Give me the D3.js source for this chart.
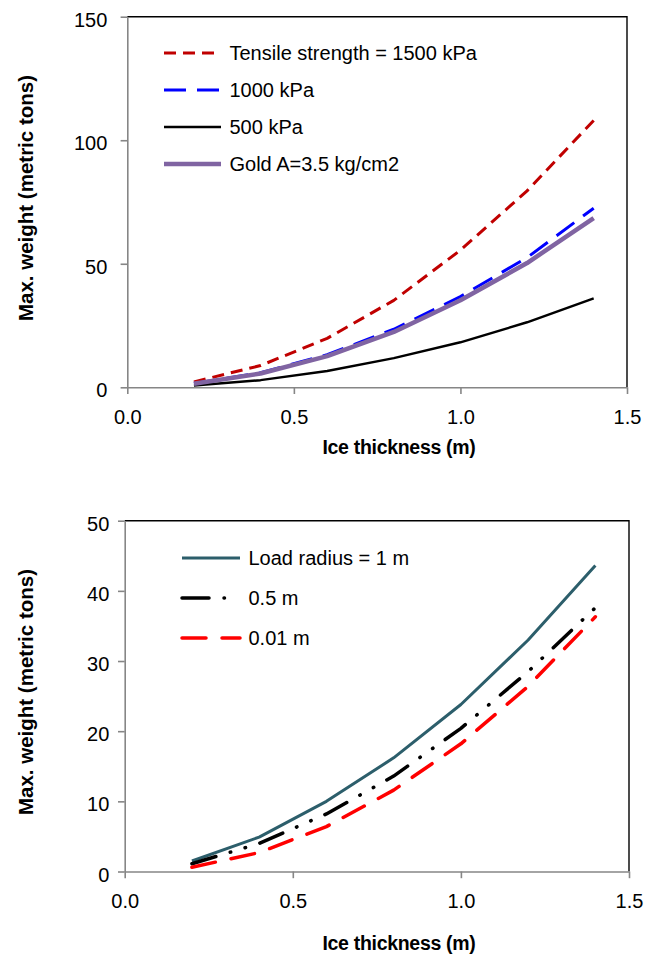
<!DOCTYPE html>
<html lang="en">
<head>
  <meta charset="UTF-8" />
  <title>Max. weight vs ice thickness</title>
  <script src="https://d3js.org/d3.v7.min.js"></script>
  <style>
    body { margin: 0; background: #fff; font-family: "Liberation Sans", Arial, sans-serif; }
    svg { display: block; }
    .tick text { font-size: 20px; fill: #000; }
    .axisTitle { font-size: 19.5px; font-weight: bold; fill: #000; }
    .legend text { font-size: 20px; fill: #000; }
  </style>
</head>
<body>
<svg width="647" height="967"></svg>
<script>
// ice thickness (m)
const thickness = [0.2, 0.4, 0.6, 0.8, 1.0, 1.2, 1.4];

// top chart: tensile strength series (metric tons)
const ts1500 = [2.2, 8.8, 19.8, 35.2, 55.5, 79.5, 108];
const ts1000 = [1.5, 5.9, 13.2, 23.5, 36.7, 52.5, 72.5];
const ts500  = [0.7, 2.9, 6.6, 11.8, 18.2, 26.3, 36];
const gold   = [1.4, 5.6, 12.6, 22.4, 35.2, 50.3, 68.5];

// bottom chart: load radius series (metric tons)
const r1m   = [1.5, 4.9, 10, 16.2, 23.8, 33, 43.6];
const r05m  = [1.1, 4.0, 8.2, 13.6, 20.4, 28.5, 37.6];
const r001m = [0.6, 2.7, 6.4, 11.6, 18.2, 26.4, 36.3];

const xTicks = [0, 0.5, 1.0, 1.5];
const yTicksTop = [0, 50, 100, 150];
const yTicksBottom = [0, 10, 20, 30, 40, 50];

const svg = d3.select("svg");

function drawChart(cfg) {
  const x = d3.scaleLinear().domain([0, 1.5]).range([cfg.left, cfg.right]);
  const y = d3.scaleLinear().domain([0, cfg.yMax]).range([cfg.bottom, cfg.top]);
  const g = svg.append("g");

  // plot frame (top and right)
  g.append("path")
    .attr("d", `M${cfg.left},${cfg.top}H${cfg.right}V${cfg.bottom}`)
    .attr("fill", "none")
    .attr("stroke", "#000")
    .attr("stroke-width", 1.4);

  const xAxis = g.append("g")
    .attr("transform", `translate(0,${cfg.bottom})`)
    .call(d3.axisBottom(x).tickValues(xTicks).tickFormat(d3.format(".1f"))
      .tickSize(6.7).tickSizeOuter(0).tickPadding(15.8));
  const yAxis = g.append("g")
    .attr("transform", `translate(${cfg.left},0)`)
    .call(d3.axisLeft(y).tickValues(cfg.yTicks)
      .tickSize(6.7).tickSizeOuter(0).tickPadding(cfg.yPad));
  yAxis.selectAll(".tick text").attr("dy", "0.48em");
  [xAxis, yAxis].forEach(a => {
    a.selectAll(".domain, .tick line").attr("stroke", "#868686").attr("stroke-width", 1.6);
    a.selectAll("text").attr("font-family", null).attr("font-size", null);
  });

  g.append("text")
    .attr("class", "axisTitle")
    .attr("x", 399)
    .attr("y", cfg.xTitleY)
    .attr("text-anchor", "middle")
    .attr("letter-spacing", "-0.3")
    .text("Ice thickness (m)");

  g.append("text")
    .attr("class", "axisTitle")
    .attr("transform", `translate(33,${cfg.yTitleC}) rotate(-90)`)
    .attr("text-anchor", "middle")
    .style("font-size", "20.5px")
    .text("Max. weight (metric tons)");

  const line = d3.line().x((d, i) => x(thickness[i])).y(d => y(d));

  cfg.series.forEach(s => {
    g.append("path")
      .datum(s.values)
      .attr("d", line)
      .attr("fill", "none")
      .attr("stroke", s.color)
      .attr("stroke-width", s.width)
      .attr("stroke-dasharray", s.dash)
      .attr("stroke-linecap", s.cap || "butt")
      .attr("stroke-linejoin", "round");
  });

  // legend
  const lg = g.append("g").attr("class", "legend");
  cfg.series.forEach((s, i) => {
    const ly = cfg.legY + i * cfg.legStep;
    lg.append("line")
      .attr("x1", cfg.legX1).attr("x2", cfg.legX2)
      .attr("y1", ly).attr("y2", ly)
      .attr("stroke", s.color)
      .attr("stroke-width", s.width)
      .attr("stroke-dasharray", s.legDash || s.dash)
      .attr("stroke-linecap", s.cap || "butt");
    lg.append("text")
      .attr("x", cfg.legX2 + 8.5)
      .attr("y", ly + 7)
      .text(s.name);
  });
}

drawChart({
  left: 127.3, right: 627, top: 16.7, bottom: 387.3,
  yMax: 150, yTicks: yTicksTop, yPad: 13.3,
  xTitleY: 454, yTitleC: 198,
  legX1: 164, legX2: 221, legY: 53, legStep: 37,
  series: [
    { name: "Tensile strength = 1500 kPa", values: ts1500, color: "#C00000", width: 3, dash: "12,7" },
    { name: "1000 kPa", values: ts1000, color: "#0000FF", width: 3, dash: "22,11" },
    { name: "500 kPa", values: ts500, color: "#000000", width: 2.5, dash: null },
    { name: "Gold A=3.5 kg/cm2", values: gold, color: "#8064A2", width: 4.5, dash: null }
  ]
});

drawChart({
  left: 124.7, right: 629, top: 520.7, bottom: 871.5,
  yMax: 50, yTicks: yTicksBottom, yPad: 8.7,
  xTitleY: 950, yTitleC: 692,
  legX1: 182, legX2: 240, legY: 558, legStep: 40,
  series: [
    { name: "Load radius = 1 m", values: r1m, color: "#2C5E6B", width: 3, dash: null },
    { name: "0.5 m", values: r05m, color: "#000000", width: 3.5, dash: "25,15,0.5,15,0.5,15",
      legDash: "27,15,0.5,40", cap: "round" },
    { name: "0.01 m", values: r001m, color: "#FF0000", width: 3.5, dash: "24,16", cap: "round" }
  ]
});
</script>
</body>
</html>
